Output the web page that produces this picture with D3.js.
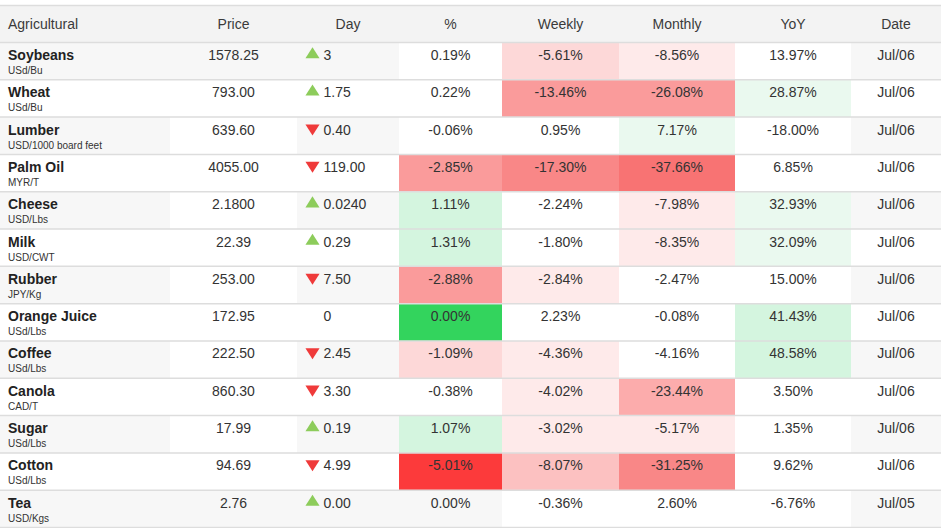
<!DOCTYPE html>
<html><head><meta charset="utf-8">
<script src="https://cdn.jsdelivr.net/npm/d3@7"></script>
<style>
html,body{margin:0;padding:0;background:#fff;}
svg{display:block;font-family:"Liberation Sans",Arial,sans-serif;}
</style></head>
<body>
<svg id="chart" width="941" height="528"></svg>
<script>
// ---- data ----
const headers = ["Agricultural","Price","Day","%","Weekly","Monthly","YoY","Date"];
const names = ["Soybeans","Wheat","Lumber","Palm Oil","Cheese","Milk","Rubber","Orange Juice","Coffee","Canola","Sugar","Cotton","Tea"];
const units = ["USd/Bu","USd/Bu","USD/1000 board feet","MYR/T","USD/Lbs","USD/CWT","JPY/Kg","USd/Lbs","USd/Lbs","CAD/T","USd/Lbs","USd/Lbs","USD/Kgs"];
const prices = ["1578.25","793.00","639.60","4055.00","2.1800","22.39","253.00","172.95","222.50","860.30","17.99","94.69","2.76"];
const dayChange = ["3","1.75","0.40","119.00","0.0240","0.29","7.50","0","2.45","3.30","0.19","4.99","0.00"];
const dayDir = [1,1,-1,-1,1,1,-1,0,-1,-1,1,-1,1];
const pctDay = [0.19,0.22,-0.06,-2.85,1.11,1.31,-2.88,0.00,-1.09,-0.38,1.07,-5.01,0.00];
const weekly = [-5.61,-13.46,0.95,-17.30,-2.24,-1.80,-2.84,2.23,-4.36,-4.02,-3.02,-8.07,-0.36];
const monthly = [-8.56,-26.08,7.17,-37.66,-7.98,-8.35,-2.47,-0.08,-4.16,-23.44,-5.17,-31.25,2.60];
const yoy = [13.97,28.87,-18.00,6.85,32.93,32.09,15.00,41.43,48.58,3.50,1.35,9.62,-6.76];
const dates = ["Jul/06","Jul/06","Jul/06","Jul/06","Jul/06","Jul/06","Jul/06","Jul/06","Jul/06","Jul/06","Jul/06","Jul/06","Jul/05"];
// heat levels (null = no fill, row stripe shows)
const priceHeat   = [null,0,0,0,0,0,0,0,0,0,0,0,null];
const pctHeat     = [0,0,0,-5,2,2,-5,3,-2,0,2,-8,null];
const weeklyHeat  = [-2,-5,0,-6,0,0,-1,0,-1,-1,-1,-3,0];
const monthlyHeat = [-1,-5,1,-7,-1,-1,0,0,0,-4,-1,-6,0];
const yoyHeat     = [0,1,0,0,1,1,0,2,2,0,0,0,0];

// ---- layout ----
const W = 941, H = 528;
const colKeys = headers;
const colEdges = [0,170,297,399,502,619,735,851,941];
const xLeft = d3.scaleOrdinal(colKeys, colEdges.slice(0,-1));
const xRight = d3.scaleOrdinal(colKeys, colEdges.slice(1));
const xMid = k => (xLeft(k)+xRight(k))/2;
const headTop = 5.5, headBottom = 42.5;
const y = d3.scaleBand().domain(names).range([headBottom, 527.5]).padding(0);

const heatColor = d3.scaleOrdinal(
  [-8,-7,-6,-5,-4,-3,-2,-1,0,1,2,3],
  ["#fc3a3b","#f87373","#f98787","#fa9b9b","#fcacac","#fcc1c1","#fdd8d8","#feeaea","#ffffff","#eaf9ef","#d4f5df","#33d45d"]);
const stripe = "#f7f7f7";

const svg = d3.select("#chart");
svg.append("rect").attr("width",W).attr("height",H).attr("fill","#fff");

// header
svg.append("rect").attr("x",0).attr("y",headTop).attr("width",W).attr("height",headBottom-headTop).attr("fill","#f3f3f3");
svg.selectAll("text.h").data(headers).join("text")
  .attr("class","h")
  .attr("x",(d,i)=> i===0 ? 8 : xMid(d))
  .attr("y",29)
  .attr("text-anchor",(d,i)=> i===0 ? "start" : "middle")
  .attr("font-size",14).attr("fill","#3a3a3a").text(d=>d);

// rows
const rows = names.map((n,i)=>({i,n}));
const g = svg.selectAll("g.row").data(rows).join("g").attr("class","row")
  .attr("transform",d=>`translate(0,${y(d.n)})`);
const rh = y.bandwidth();

// stripe backgrounds
g.filter(d=>d.i%2===0).append("rect").attr("x",0).attr("y",0).attr("width",W).attr("height",rh).attr("fill",stripe);

const heatCols = [["Price",priceHeat],["%",pctHeat],["Weekly",weeklyHeat],["Monthly",monthlyHeat],["YoY",yoyHeat]];
heatCols.forEach(([k,arr])=>{
  g.filter(d=>arr[d.i]!==null).append("rect")
    .attr("x",xLeft(k)).attr("y",0).attr("width",xRight(k)-xLeft(k)).attr("height",rh)
    .attr("fill",d=>heatColor(arr[d.i]));
});

// names + units
g.append("text").attr("x",8).attr("y",17.5).attr("font-size",14).attr("font-weight","bold").attr("fill","#222").text(d=>d.n);
g.append("text").attr("x",8).attr("y",31.5).attr("font-size",10).attr("fill","#333").text(d=>units[d.i]);

// price
g.append("text").attr("x",xMid("Price")).attr("y",17.5).attr("text-anchor","middle").attr("font-size",14).attr("fill","#333").text(d=>prices[d.i]);

// day change with triangles
const tri = d3.symbol().type(d3.symbolTriangle).size(78);
g.filter(d=>dayDir[d.i]!==0).append("path")
  .attr("d",tri)
  .attr("transform",d=>`translate(${xLeft("Day")+15.5},${dayDir[d.i]>0?12:11}) ${dayDir[d.i]>0?"":"rotate(180)"} scale(1.05,0.95)`)
  .attr("fill",d=>dayDir[d.i]>0?"#8dcc5b":"#ef3a3a");
g.append("text").attr("x",xLeft("Day")+26.5).attr("y",17.5).attr("font-size",14).attr("fill","#333").text(d=>dayChange[d.i]);

// percentage columns
const fmt = v => v.toFixed(2)+"%";
[["%",pctDay],["Weekly",weekly],["Monthly",monthly],["YoY",yoy]].forEach(([k,arr])=>{
  g.append("text").attr("x",xMid(k)).attr("y",17.5).attr("text-anchor","middle").attr("font-size",14).attr("fill","#333").text(d=>fmt(arr[d.i]));
});
g.append("text").attr("x",xMid("Date")).attr("y",17.5).attr("text-anchor","middle").attr("font-size",14).attr("fill","#333").text(d=>dates[d.i]);

// borders
const lines = [headTop, headBottom].concat(names.map(n=>y(n)+rh));
svg.selectAll("line.b").data(lines).join("line").attr("class","b")
  .attr("x1",0).attr("x2",W).attr("y1",d=>d).attr("y2",d=>d)
  .attr("stroke","#dddddd").attr("stroke-width",1.5);
</script>
</body></html>
